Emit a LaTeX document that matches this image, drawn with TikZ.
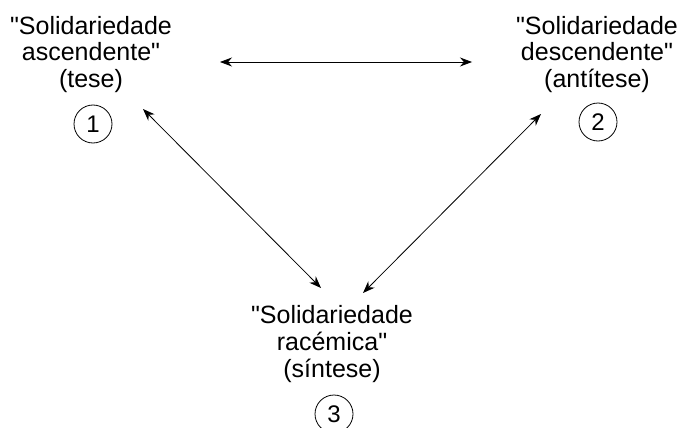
\documentclass[tikz,border=0pt]{standalone}
\usepackage{fontspec}
\setmainfont{Liberation Sans}[Ligatures=TeXOff]
\usetikzlibrary{arrows.meta}
\begin{document}
\begin{tikzpicture}[x=1pt,y=-1pt,
  label text/.style={align=center,inner sep=0pt,anchor=base,
    font=\fontsize{25}{27}\selectfont},
  numcircle/.style={draw,circle,line width=0.8pt,minimum size=38pt,inner sep=0pt,
    font=\fontsize{24}{26}\selectfont},
  link/.style={line width=0.8pt,{Stealth[length=12pt,width=9pt]}-{Stealth[length=12pt,width=9pt]}}]
  \useasboundingbox (0,0) rectangle (680,428);

  % three positions of the triad (anchored at the baseline of the last line)
  \node[label text] (tese) at (91,88) {"Solidariedade\\ascendente"\\(tese)};
  \node[label text] (antitese) at (597,88) {"Solidariedade\\descendente"\\(antítese)};
  \node[label text] (sintese) at (332,377) {"Solidariedade\\racémica"\\(síntese)};

  \node[numcircle] (n1) at (93,124) {1};
  \node[numcircle] (n2) at (598,122) {2};
  \node[numcircle] (n3) at (334,414) {3};

  % arrow end points
  \coordinate (h1) at (220,62);
  \coordinate (h2) at (472,62);
  \coordinate (l1) at (143,109);
  \coordinate (l2) at (321,288);
  \coordinate (r1) at (541,114);
  \coordinate (r2) at (363,293);

  \draw[link] (h1) -- (h2);
  \draw[link] (l1) -- (l2);
  \draw[link] (r1) -- (r2);
\end{tikzpicture}
\end{document}
